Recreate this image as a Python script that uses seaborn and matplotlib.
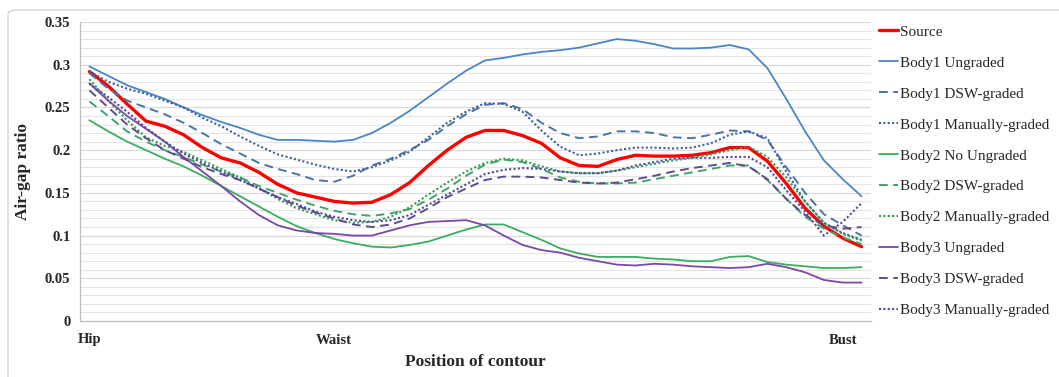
import numpy as np
import pandas as pd
import matplotlib
matplotlib.use("Agg")
import matplotlib.pyplot as plt
from matplotlib.patches import FancyBboxPatch
import seaborn as sns

# ---------------- data ----------------
positions = list(range(42))
xtick_pos = [0, 13, 40]
xtick_labels = ["Hip", "Waist", "Bust"]
ytick_vals = [0, 0.05, 0.1, 0.15, 0.2, 0.25, 0.3, 0.35]
ytick_labels = ["0", "0.05", "0.1", "0.15", "0.2", "0.25", "0.3", "0.35"]

source = [0.292, 0.275, 0.254, 0.234, 0.228, 0.218, 0.203, 0.191, 0.185, 0.174,
          0.160, 0.150, 0.145, 0.140, 0.138, 0.139, 0.148, 0.162, 0.182, 0.200,
          0.215, 0.223, 0.223, 0.217, 0.208, 0.191, 0.182, 0.181, 0.189, 0.194,
          0.193, 0.193, 0.194, 0.197, 0.203, 0.203, 0.187, 0.161, 0.132, 0.111,
          0.097, 0.087]
body1_ungraded = [0.298, 0.287, 0.276, 0.268, 0.260, 0.250, 0.241, 0.233, 0.226, 0.218,
                  0.212, 0.212, 0.211, 0.210, 0.212, 0.220, 0.232, 0.246, 0.262, 0.278,
                  0.293, 0.305, 0.308, 0.312, 0.315, 0.317, 0.320, 0.325, 0.330, 0.328,
                  0.324, 0.319, 0.319, 0.320, 0.323, 0.318, 0.296, 0.260, 0.222, 0.188,
                  0.166, 0.146]
body1_dsw = [0.290, 0.272, 0.258, 0.250, 0.242, 0.232, 0.220, 0.207, 0.196, 0.185,
             0.178, 0.172, 0.165, 0.163, 0.170, 0.182, 0.190, 0.200, 0.212, 0.228,
             0.242, 0.253, 0.255, 0.248, 0.232, 0.220, 0.214, 0.216, 0.222, 0.222,
             0.220, 0.215, 0.214, 0.218, 0.223, 0.222, 0.212, 0.180, 0.150, 0.125,
             0.112, 0.100]
body1_manual = [0.292, 0.280, 0.272, 0.266, 0.258, 0.250, 0.238, 0.228, 0.216, 0.205,
                0.195, 0.189, 0.183, 0.178, 0.175, 0.180, 0.188, 0.198, 0.215, 0.232,
                0.245, 0.255, 0.254, 0.245, 0.223, 0.204, 0.194, 0.196, 0.200, 0.203,
                0.203, 0.202, 0.203, 0.208, 0.218, 0.222, 0.214, 0.175, 0.140, 0.115,
                0.103, 0.095]
body2_ungraded = [0.235, 0.222, 0.210, 0.200, 0.190, 0.181, 0.170, 0.158, 0.146, 0.134,
                  0.122, 0.111, 0.103, 0.096, 0.091, 0.087, 0.086, 0.089, 0.093, 0.100,
                  0.107, 0.113, 0.113, 0.104, 0.095, 0.085, 0.079, 0.075, 0.075, 0.075,
                  0.073, 0.072, 0.070, 0.070, 0.075, 0.076, 0.069, 0.066, 0.064, 0.062,
                  0.062, 0.063]
body2_dsw = [0.257, 0.240, 0.222, 0.210, 0.200, 0.192, 0.183, 0.175, 0.168, 0.158,
             0.150, 0.142, 0.135, 0.129, 0.125, 0.123, 0.126, 0.131, 0.142, 0.155,
             0.170, 0.183, 0.189, 0.186, 0.178, 0.168, 0.163, 0.161, 0.161, 0.162,
             0.166, 0.170, 0.174, 0.178, 0.182, 0.182, 0.165, 0.143, 0.122, 0.108,
             0.098, 0.090]
body2_manual = [0.283, 0.258, 0.235, 0.215, 0.205, 0.198, 0.188, 0.178, 0.168, 0.155,
                0.143, 0.132, 0.125, 0.118, 0.115, 0.116, 0.122, 0.133, 0.148, 0.162,
                0.175, 0.185, 0.190, 0.188, 0.181, 0.175, 0.173, 0.173, 0.176, 0.180,
                0.184, 0.188, 0.191, 0.195, 0.200, 0.204, 0.192, 0.168, 0.140, 0.115,
                0.102, 0.094]
body3_ungraded = [0.278, 0.258, 0.240, 0.225, 0.210, 0.192, 0.175, 0.158, 0.140, 0.124,
                  0.112, 0.106, 0.103, 0.102, 0.100, 0.100, 0.106, 0.112, 0.116, 0.117,
                  0.118, 0.112, 0.100, 0.089, 0.083, 0.080, 0.074, 0.070, 0.066, 0.065,
                  0.067, 0.066, 0.064, 0.063, 0.062, 0.063, 0.067, 0.063, 0.057, 0.048,
                  0.045, 0.045]
body3_dsw = [0.270, 0.250, 0.230, 0.214, 0.200, 0.190, 0.180, 0.172, 0.165, 0.155,
             0.145, 0.135, 0.127, 0.120, 0.113, 0.110, 0.113, 0.120, 0.132, 0.145,
             0.155, 0.165, 0.169, 0.169, 0.168, 0.165, 0.162, 0.161, 0.162, 0.166,
             0.170, 0.175, 0.179, 0.182, 0.185, 0.181, 0.166, 0.143, 0.124, 0.112,
             0.108, 0.110]
body3_manual = [0.278, 0.262, 0.245, 0.226, 0.210, 0.196, 0.185, 0.175, 0.165, 0.155,
                0.145, 0.137, 0.128, 0.122, 0.118, 0.116, 0.118, 0.124, 0.136, 0.148,
                0.160, 0.172, 0.177, 0.179, 0.178, 0.175, 0.173, 0.173, 0.176, 0.182,
                0.186, 0.190, 0.191, 0.191, 0.192, 0.192, 0.180, 0.153, 0.128, 0.100,
                0.116, 0.138]

series_names = ["Source", "Body1 Ungraded", "Body1 DSW-graded", "Body1 Manually-graded",
                "Body2 No Ungraded", "Body2 DSW-graded", "Body2 Manually-graded",
                "Body3 Ungraded", "Body3 DSW-graded", "Body3 Manually-graded"]
series_values = [source, body1_ungraded, body1_dsw, body1_manual,
                 body2_ungraded, body2_dsw, body2_manual,
                 body3_ungraded, body3_dsw, body3_manual]

# ---------------- style ----------------
DASH = (0, (4.5, 2.8))
DOT = (0, (1.0, 1.1))
styles = {
    "Source": dict(color="#FF0000", lw=2.4, ls="-"),
    "Body1 Ungraded": dict(color="#4A86C5", lw=1.3, ls="-"),
    "Body1 DSW-graded": dict(color="#4A74A6", lw=1.4, ls=DASH),
    "Body1 Manually-graded": dict(color="#3D5EA0", lw=1.5, ls=DOT),
    "Body2 No Ungraded": dict(color="#3AAE5F", lw=1.3, ls="-"),
    "Body2 DSW-graded": dict(color="#3FA46A", lw=1.4, ls=DASH),
    "Body2 Manually-graded": dict(color="#2E9E4F", lw=1.5, ls=DOT),
    "Body3 Ungraded": dict(color="#7B47A8", lw=1.3, ls="-"),
    "Body3 DSW-graded": dict(color="#5E4B8B", lw=1.4, ls=DASH),
    "Body3 Manually-graded": dict(color="#54479A", lw=1.5, ls=DOT),
}

sns.set_theme(style="white")
plt.rcParams["font.family"] = ["Liberation Serif", "DejaVu Serif"]

W, H = 1059, 377
fig = plt.figure(figsize=(W / 100, H / 100), dpi=100)
fig.patch.set_facecolor("white")

# outer chart border (only top/left visible)
fig.add_artist(FancyBboxPatch((8 / W, -0.05), 1.2, 1 - 10 / H + 0.05,
                              boxstyle="round,pad=0,rounding_size=0.01",
                              transform=fig.transFigure, fill=False,
                              ec="#D4D4D4", lw=1.0))

left, right, top, bottom = 80, 871, 22, 321
ax = fig.add_axes([left / W, 1 - bottom / H, (right - left) / W, (bottom - top) / H])

for name, vals in zip(series_names, series_values):
    st = styles[name]
    sns.lineplot(x=positions, y=vals, ax=ax, color=st["color"], linewidth=st["lw"],
                 linestyle=st["ls"], label=name, sort=False)

ax.set_xlim(-0.5, len(positions) - 0.5)
ax.set_ylim(0, 0.35)

# y axis
ax.set_yticks(ytick_vals, labels=ytick_labels)
ax.set_yticks(np.arange(0, 0.351, 0.01), minor=True)
ax.grid(True, axis="y", which="major", color="#D9D9D9", lw=0.9)
ax.grid(True, axis="y", which="minor", color="#E4E4E4", lw=0.8)
ax.grid(False, axis="x", which="both")
ax.tick_params(axis="y", which="both", length=0, pad=7, labelsize=10.5)
for t in ax.get_yticklabels():
    t.set_fontweight("bold")

# x axis: tick marks between categories, labels on categories
ax.set_xticks(np.arange(-0.5, len(positions), 1.0))
ax.set_xticklabels([])
ax.set_xticks(xtick_pos, labels=xtick_labels, minor=True)
ax.tick_params(axis="x", which="major", length=4, width=0.8, color="#BFBFBF", direction="out")
ax.tick_params(axis="x", which="minor", length=0, pad=9, labelsize=10.5)
for t in ax.get_xticklabels(minor=True):
    t.set_fontweight("bold")

for side in ["top", "right"]:
    ax.spines[side].set_visible(False)
for side in ["left", "bottom"]:
    ax.spines[side].set_color("#BFBFBF")
    ax.spines[side].set_linewidth(0.9)

ax.set_xlabel("Position of contour", fontsize=12.5, fontweight="bold", va="center")
ax.xaxis.set_label_coords((475 - left) / (right - left), (bottom - 362) / (bottom - top))
ax.set_ylabel("Air-gap ratio", fontsize=12.5, fontweight="bold", va="center")
ax.yaxis.set_label_coords((23 - left) / (right - left), 0.5)

leg = ax.legend(loc="upper left", bbox_to_anchor=(879 / W, 1 - 25 / H),
                bbox_transform=fig.transFigure, frameon=False, fontsize=11,
                handlelength=1.25, handletextpad=0.1, labelspacing=1.13,
                borderpad=0, borderaxespad=0)

fig.savefig("out.png", dpi=100)
